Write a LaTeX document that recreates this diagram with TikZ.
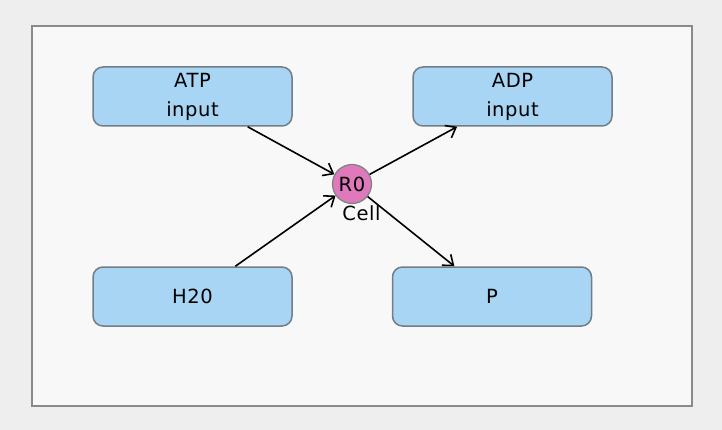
\documentclass[tikz,border=0pt]{standalone}
\usepackage{fontspec}
\setmainfont{DejaVu Sans}
\newfontfamily\diagfont[LetterSpace=3]{DejaVu Sans}
\usetikzlibrary{arrows.meta}
\definecolor{pagebg}{HTML}{EEEEEE}
\definecolor{panelbg}{HTML}{F8F8F8}
\definecolor{panelline}{HTML}{8A8A8A}
\definecolor{boxfill}{HTML}{A9D5F4}
\definecolor{boxline}{HTML}{737D86}
\definecolor{cellfill}{HTML}{DE79BB}
\definecolor{cellline}{HTML}{808080}
\tikzset{
  species/.style={draw=boxline, fill=boxfill, line width=1.5pt, rounded corners=10pt,
    minimum width=199pt, minimum height=59pt, inner sep=0pt, align=center,
    font=\diagfont\fontsize{19.5}{29}\selectfont},
  reaction/.style={circle, draw=cellline, fill=cellfill, line width=1.2pt,
    minimum size=39pt, inner sep=0pt, font=\diagfont\fontsize{19.5}{20}\selectfont},
  celllabel/.style={inner sep=0pt, font=\diagfont\fontsize{19.5}{20}\selectfont},
  flow/.style={line width=1.6pt, -{Straight Barb[length=9pt,width=14pt,line width=1.6pt]}}
}
\begin{document}
\begin{tikzpicture}[x=1pt,y=-1pt]
\fill[pagebg] (0,0) rectangle (722,430);
\useasboundingbox (0,0) rectangle (722,430);
\draw[panelline, fill=panelbg, line width=2pt] (32,26) rectangle (692,406);
\node[species] (atp) at (192.5,96.5) {ATP\\input};
\node[species] (adp) at (512.5,96.5) {ADP\\input};
\node[species] (h20) at (192.5,296.5) {H20};
\node[species] (p) at (492,296.5) {P};
\node[reaction] (r0) at (352,184) {R0};
\node[celllabel] (cell) at (361.5,213) {Cell};
\draw[flow] (atp) -- (r0);
\draw[flow] (h20) -- (r0);
\draw[flow] (r0) -- (adp);
\draw[flow] (r0) -- (p);
\end{tikzpicture}
\end{document}
